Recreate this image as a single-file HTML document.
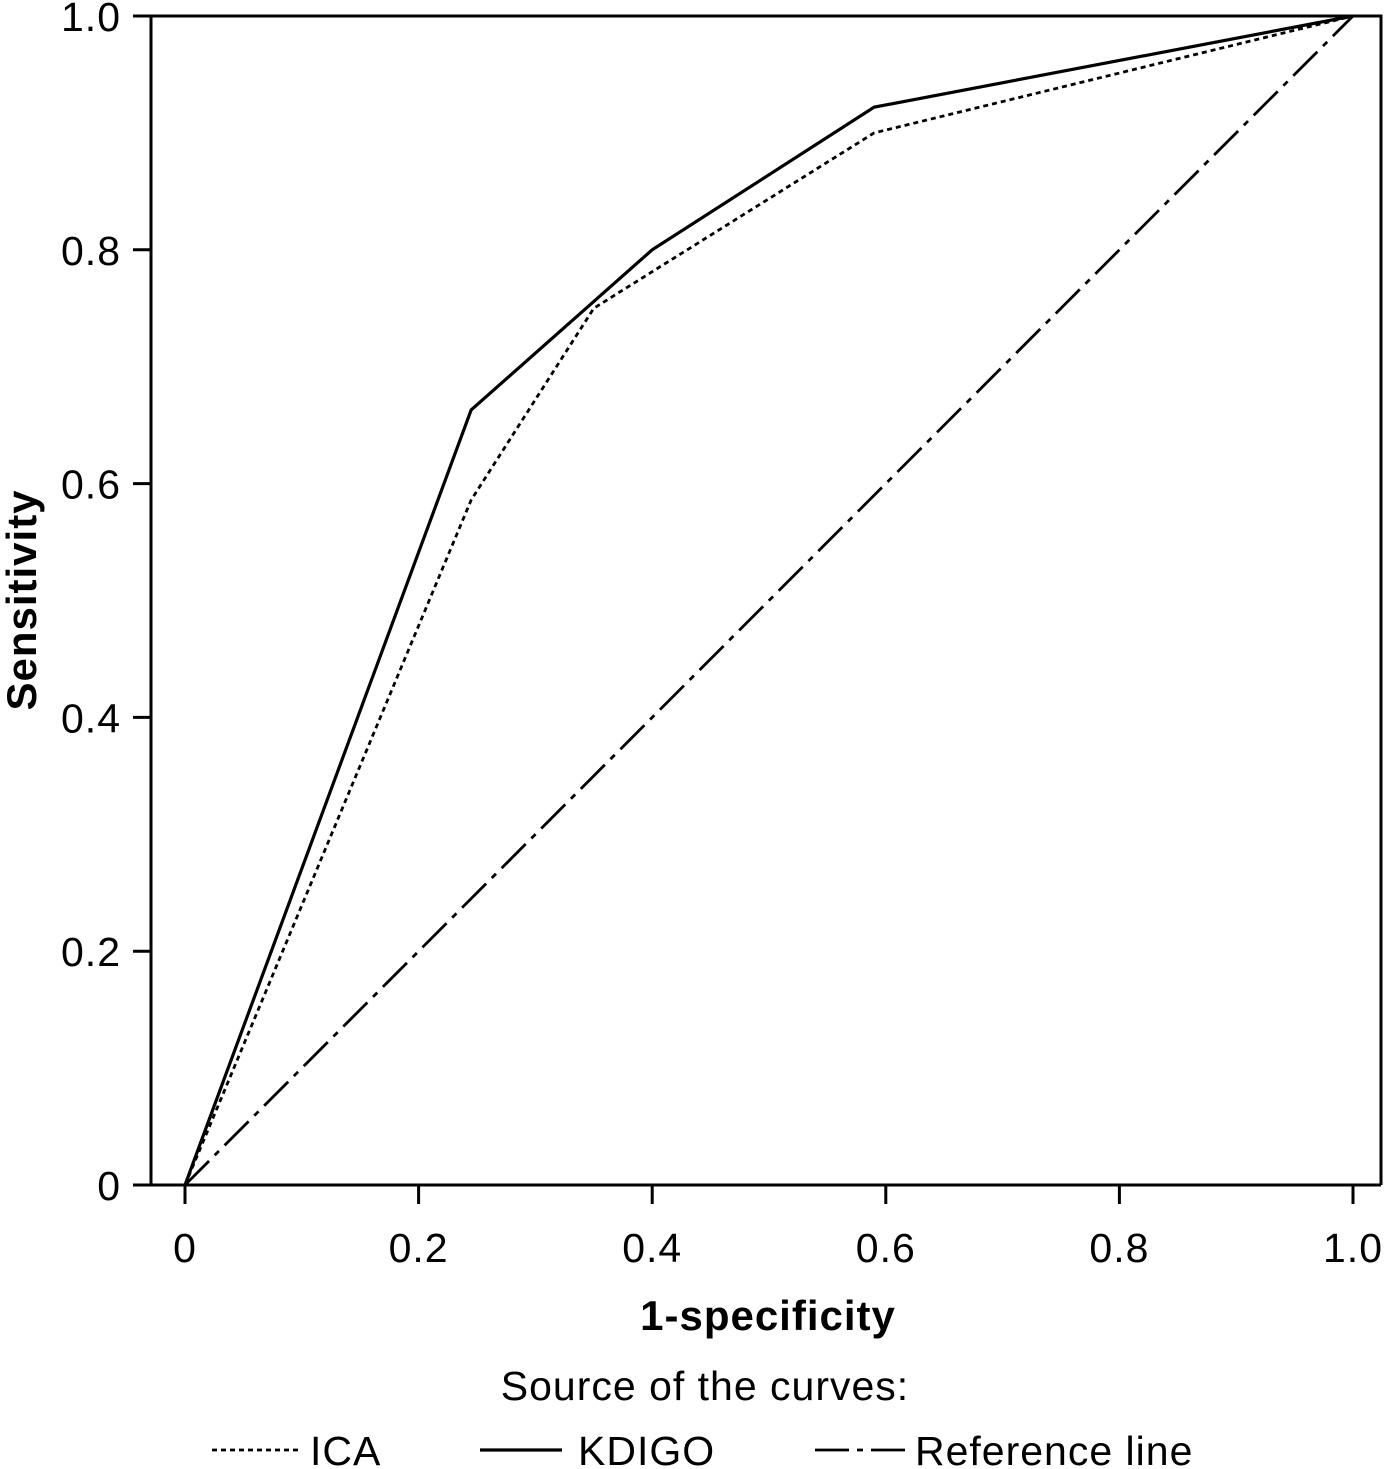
<!DOCTYPE html>
<html><head><meta charset="utf-8"><style>
body{margin:0;background:#fff}
svg text{font-family:"Liberation Sans","DejaVu Sans",sans-serif;fill:#000}
</style></head><body>
<svg id="chart" width="1385" height="1469" viewBox="0 0 1385 1469" xmlns="http://www.w3.org/2000/svg" style="position:absolute;left:0;top:0">
<g id="plot"></g>
</svg>
<script>
const xTicks=[0,0.2,0.4,0.6,0.8,1.0];
const xTickLabels=["0","0.2","0.4","0.6","0.8","1.0"];
const yTicks=[0,0.2,0.4,0.6,0.8,1.0];
const yTickLabels=["0","0.2","0.4","0.6","0.8","1.0"];
const icaX=[0,0.245,0.35,0.59,1];
const icaY=[0,0.586,0.75,0.9,1];
const kdigoX=[0,0.245,0.4,0.59,1];
const kdigoY=[0,0.663,0.8,0.922,1];
const refX=[0,1];
const refY=[0,1];

const NS="http://www.w3.org/2000/svg";
const g=document.getElementById('plot');
const sx=v=>185+v*1168;
const sy=v=>1185-v*1169;
function mk(tag,attrs,parent){const e=document.createElementNS(NS,tag);for(const k in attrs)e.setAttribute(k,attrs[k]);(parent||g).appendChild(e);return e;}

let e;
e=mk('path',{d:'M151,16 H1381 V1185 M151,16 V1185 M133,1185 H1381',fill:'none',stroke:'#000','stroke-width':3});


xTicks.forEach((t,i)=>{
  const l=mk('line',{x1:sx(t),x2:sx(t),y1:1185,y2:1204,stroke:'#000','stroke-width':3});
  
  
  const tx=mk('text',{x:sx(t),y:1262,'font-size':41,'letter-spacing':1,'text-anchor':'middle'});
  tx.textContent=xTickLabels[i];
  
  
});
yTicks.forEach((t,i)=>{
  const l=mk('line',{x1:133,x2:151,y1:sy(t),y2:sy(t),stroke:'#000','stroke-width':3});
  
  
  const tx=mk('text',{x:121,y:sy(t)+15,'font-size':41,'letter-spacing':1,'text-anchor':'end'});
  tx.textContent=yTickLabels[i];
  
  
});
function series(xs,ys,dash,name){
  const d=xs.map((x,i)=>(i?'L':'M')+sx(x)+','+sy(ys[i])).join(' ');
  const p=mk('path',{d:d,fill:'none',stroke:'#000','stroke-width':dash?2.8:3.2,'stroke-dasharray':dash||'none'});
  
  
}
series(refX,refY,'34,8,6,8','reference-line');
series(icaX,icaY,'5,4','ica-curve');
series(kdigoX,kdigoY,null,'kdigo-curve');
</script>
<svg style="position:absolute;left:0;top:0" width="1385" height="1469" xmlns="http://www.w3.org/2000/svg">
<text x="768" y="1330" font-size="42" font-weight="bold" letter-spacing="1" text-anchor="middle">1-specificity</text>
<text transform="translate(36,600) rotate(-90)" font-size="42" font-weight="bold" letter-spacing="1" text-anchor="middle">Sensitivity</text>
<text x="705" y="1400" font-size="41" letter-spacing="1" text-anchor="middle">Source of the curves:</text>
<g>
<line x1="212" x2="300" y1="1450" y2="1450" stroke="#000" stroke-width="2.8" stroke-dasharray="5,4"/>
<text x="310" y="1465" font-size="41" letter-spacing="1">ICA</text></g>
<g>
<line x1="480" x2="562" y1="1450" y2="1450" stroke="#000" stroke-width="3.2"/>
<text x="578" y="1465" font-size="41" letter-spacing="1">KDIGO</text></g>
<g>
<line x1="815" x2="905" y1="1450" y2="1450" stroke="#000" stroke-width="2.8" stroke-dasharray="34,8,6,8"/>
<text x="915" y="1465" font-size="41" letter-spacing="1">Reference line</text></g>
</svg>
</body></html>
